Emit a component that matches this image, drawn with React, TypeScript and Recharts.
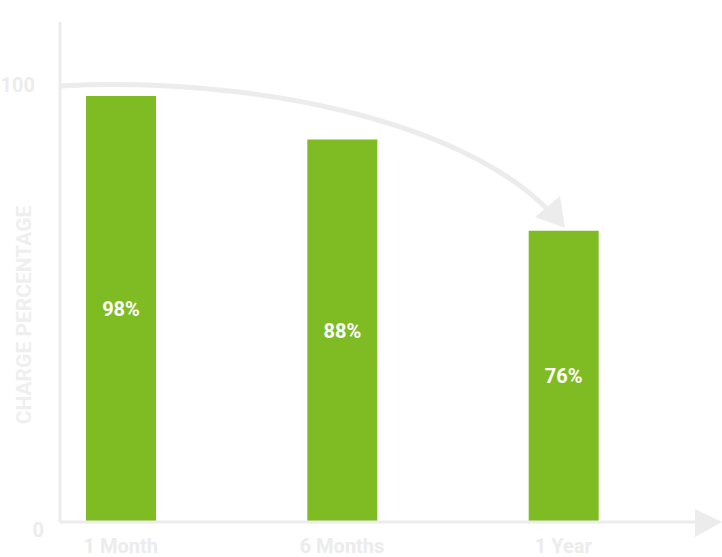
import { Bar, BarChart, Customized, LabelList, XAxis, YAxis } from "recharts";

const periods = ["1 Month", "6 Months", "1 Year"];
const charge = [98, 88, 67];
const chargeLabels = ["98%", "88%", "76%"];
const yTicks = [0, 100];

const green = "#7fbb22";
const faint = "#ececec";

const data = periods.map((period, i) => ({ period, charge: charge[i], label: chargeLabels[i] }));

function YTick({ x, y, payload }: any) {
  const isZero = payload.value === 0;
  return (
    <text
      x={isZero ? x - 8 : x - 17}
      y={isZero ? y + 8 : y - 2}
      dy="0.355em"
      textAnchor="end"
      fill={faint}
      fontSize={20}
      fontWeight="bold"
    >
      {payload.value}
    </text>
  );
}

function AxisTitle({ viewBox }: any) {
  const cx = viewBox.x + 31;
  const cy = 315;
  return (
    <text
      x={cx}
      y={cy}
      transform={`rotate(-90, ${cx}, ${cy})`}
      textAnchor="middle"
      fill="#efefef"
      fontSize={21}
      fontWeight="bold"
    >
      CHARGE PERCENTAGE
    </text>
  );
}

// decorative trend arrow + x axis arrowhead
function Decorations() {
  return (
    <g>
      <path d="M 60 86 C 250 76, 460 120, 548 210" fill="none" stroke={faint} strokeWidth={5} />
      <polygon points="535,217 560,196 565,228" fill={faint} />
      <polygon points="695,509 695,537 722,522" fill={faint} />
    </g>
  );
}

export default function App() {
  return (
    <div style={{ position: "absolute", left: 0, top: 0, width: 722, height: 557, background: "#fff" }}>
      <BarChart
        width={722}
        height={557}
        data={data}
        margin={{ top: 22, right: 27, bottom: 0, left: 0 }}
        barCategoryGap={75}
        style={{ fontFamily: "Roboto, sans-serif" }}
      >
        <XAxis
          dataKey="period"
          axisLine={{ stroke: faint, strokeWidth: 3 }}
          tickLine={false}
          tickMargin={11}
          height={35}
          padding={{ left: -50, right: 21 }}
          tick={{ fill: faint, fontSize: 20, fontWeight: "bold" }}
        />
        <YAxis
          width={60}
          domain={[0, 115]}
          ticks={yTicks}
          axisLine={{ stroke: faint, strokeWidth: 3 }}
          tickLine={false}
          tick={<YTick />}
          label={{ content: <AxisTitle /> }}
        />
        <Bar dataKey="charge" fill={green} barSize={70} isAnimationActive={false}>
          <LabelList dataKey="label" position="center" fill="#fff" fontSize={20} fontWeight="bold" />
        </Bar>
        <Customized component={<Decorations />} />
      </BarChart>
    </div>
  );
}
